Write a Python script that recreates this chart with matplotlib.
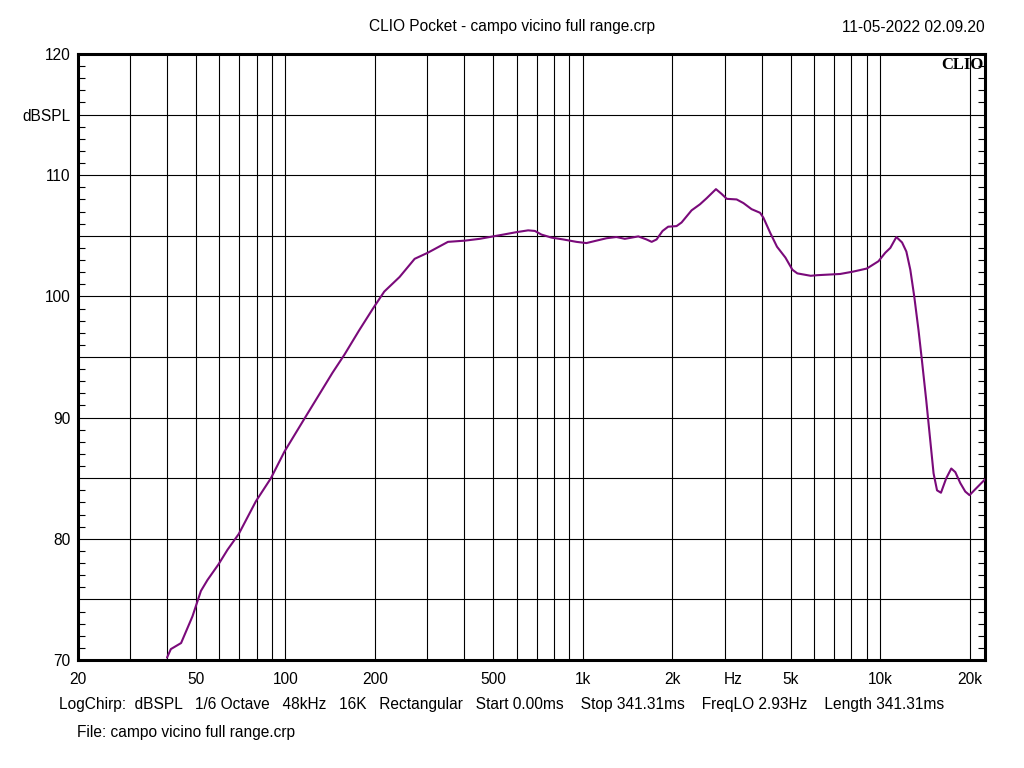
import matplotlib
matplotlib.use("Agg")
import matplotlib.pyplot as plt
from matplotlib.ticker import MultipleLocator, FixedLocator, NullFormatter

plt.rcParams['font.family'] = ['Liberation Sans', 'DejaVu Sans']

# ---- data ----
freq_hz = [40, 41.2, 44.6, 48.7, 52, 54.7, 59.6, 63.9, 69.7, 79.6, 89.4, 99.3,
           115.8, 144, 158, 177, 197, 215, 242, 272, 301, 352, 401, 450, 499,
           540, 598, 655, 690, 726, 785, 859, 952, 1028, 1111, 1202, 1297, 1384,
           1537, 1637, 1704, 1770, 1854, 1936, 2066, 2148, 2321, 2477, 2608, 2803,
           2930, 3047, 3290, 3467, 3692, 3943, 4046, 4265, 4496, 4800, 5065, 5262,
           5838, 6138, 7330, 8125, 9015, 9860, 10395, 10810, 11330, 11840, 12240,
           12620, 13010, 13450, 13810, 14280, 14730, 15110, 15520, 16000, 16670,
           17330, 17880, 18580, 19310, 19960, 20890, 22290, 22500]
spl_db = [70.2, 70.9, 71.4, 73.6, 75.7, 76.6, 77.9, 79.1, 80.4, 83.1, 85.0, 87.2,
          89.9, 93.7, 95.2, 97.2, 99.0, 100.4, 101.6, 103.1, 103.6, 104.5, 104.6,
          104.75, 104.95, 105.1, 105.3, 105.45, 105.4, 105.1, 104.85, 104.7, 104.5,
          104.4, 104.6, 104.8, 104.9, 104.75, 104.95, 104.7, 104.5, 104.7, 105.4,
          105.75, 105.8, 106.1, 107.1, 107.6, 108.1, 108.85, 108.45, 108.05, 108.0,
          107.7, 107.2, 106.9, 106.5, 105.25, 104.1, 103.2, 102.2, 101.9, 101.7,
          101.75, 101.85, 102.05, 102.3, 102.9, 103.6, 104.0, 104.9, 104.45, 103.7,
          102.2, 100.0, 97.2, 94.7, 91.4, 88.1, 85.4, 84.0, 83.8, 85.0, 85.8, 85.5,
          84.6, 83.9, 83.6, 84.1, 84.8, 84.9]

x_label_pos = [20, 50, 100, 200, 500, 1000, 2000, 3200, 5000, 10000, 20000]
x_labels = ['20', '50', '100', '200', '500', '1k', '2k', 'Hz', '5k', '10k', '20k']
x_grid = [20, 30, 40, 50, 60, 70, 80, 90, 100, 200, 300, 400, 500, 600, 700, 800, 900,
          1000, 2000, 3000, 4000, 5000, 6000, 7000, 8000, 9000, 10000, 20000]
y_grid = [70, 75, 80, 85, 90, 95, 100, 105, 110, 115, 120]
y_labels = ['70', '', '80', '', '90', '', '100', '', '110', 'dBSPL', '120']

title = "CLIO Pocket - campo vicino full range.crp"
date_text = "11-05-2022 02.09.20"
info_text = "LogChirp:  dBSPL   1/6 Octave   48kHz   16K   Rectangular   Start 0.00ms    Stop 341.31ms    FreqLO 2.93Hz    Length 341.31ms"
file_text = "File: campo vicino full range.crp"

FS = 11.2

# ---- figure ----
fig = plt.figure(figsize=(10.24, 7.68), dpi=100)
ax = fig.add_axes([77.5/1024, 1-660/768, (985-77.5)/1024, (660-54)/768])

ax.plot(freq_hz, spl_db, color='#7a0a7a', lw=1.5, zorder=3,
        solid_joinstyle='round', solid_capstyle='round')

ax.set_xscale('log')
ax.set_xlim(20, 22500)
ax.set_ylim(70, 120)

# x axis
ax.xaxis.set_major_locator(FixedLocator(x_label_pos))
ax.set_xticklabels(x_labels)
ax.xaxis.set_minor_locator(FixedLocator(x_grid))
ax.xaxis.set_minor_formatter(NullFormatter())
ax.xaxis.remove_overlapping_locs = False

# y axis
ax.set_yticks(y_grid)
ax.set_yticklabels(y_labels)
ax.yaxis.set_minor_locator(MultipleLocator(1))

ax.tick_params(axis='both', which='major', length=0, labelsize=FS, colors='black')
ax.tick_params(axis='x', which='major', pad=9)
ax.tick_params(axis='y', which='major', pad=5)
ax.tick_params(axis='x', which='minor', length=0)
ax.tick_params(axis='y', which='minor', direction='in', length=5, width=0.8,
               left=True, right=True)

ax.grid(False)
ax.xaxis.grid(True, which='minor', color='black', lw=0.8)
ax.yaxis.grid(True, which='major', color='black', lw=0.8)

for s in ax.spines.values():
    s.set_linewidth(2.2)
    s.set_color('black')

ax.text(0.998, 0.995, 'CLIO', transform=ax.transAxes, ha='right', va='top',
        fontsize=12, fontweight='heavy', family='Liberation Serif')

fig.text(0.5, 1-27/768, title, ha='center', va='center', fontsize=FS)
fig.text(985/1024, 1-27/768, date_text, ha='right', va='center', fontsize=FS)
fig.text(59/1024, 1-705/768, info_text, ha='left', va='center', fontsize=FS)
fig.text(77/1024, 1-732/768, file_text, ha='left', va='center', fontsize=FS)

fig.savefig('out.png', dpi=100, facecolor='white')
